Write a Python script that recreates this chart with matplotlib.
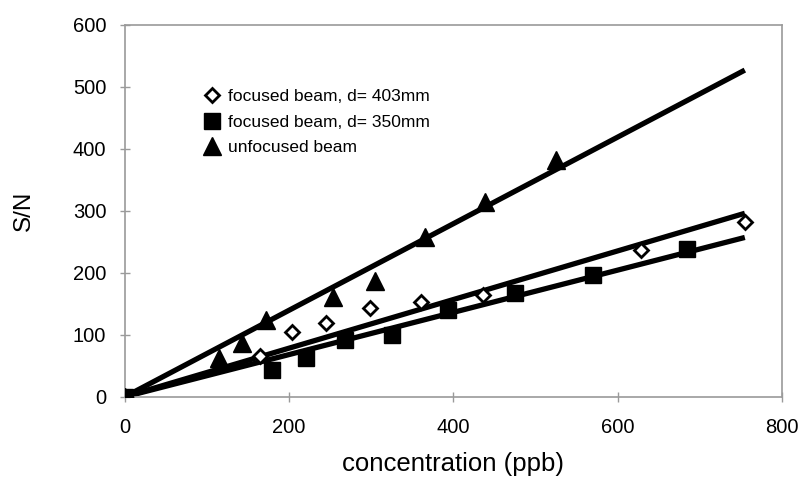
import matplotlib
matplotlib.use("Agg")
import matplotlib.pyplot as plt

plt.rcParams['font.family'] = ['Liberation Sans', 'DejaVu Sans']

dia_x = [0, 164, 203, 245, 298, 361, 436, 628, 755]
dia_y = [0, 65, 105, 119, 143, 153, 164, 236, 282]

sq_x = [0, 179, 221, 268, 325, 394, 475, 570, 684]
sq_y = [0, 43, 62, 92, 100, 140, 167, 196, 238]

tri_x = [0, 114, 142, 172, 254, 304, 365, 439, 525]
tri_y = [0, 62, 86, 124, 161, 186, 258, 315, 382]

# fitted lines (end points)
fit_x = [0, 755]
fit_dia = [0, 296]
fit_sq = [0, 257]
fit_tri = [0, 527]

fig = plt.figure(figsize=(8.01, 4.78), dpi=100)
ax = fig.add_axes([0.156, 0.17, 0.82, 0.778])

ax.plot(fit_x, fit_tri, color='black', lw=3.8, solid_capstyle='butt', zorder=2)
ax.plot(fit_x, fit_dia, color='black', lw=3.8, solid_capstyle='butt', zorder=2)
ax.plot(fit_x, fit_sq, color='black', lw=3.8, solid_capstyle='butt', zorder=2)

ax.plot(dia_x, dia_y, ls='none', marker='D', ms=7.5, mfc='white', mec='black',
        mew=2, label='focused beam, d= 403mm', zorder=3)
ax.plot(sq_x, sq_y, ls='none', marker='s', ms=11.5, color='black',
        label='focused beam, d= 350mm', zorder=3)
ax.plot(tri_x, tri_y, ls='none', marker='^', ms=13, color='black',
        label='unfocused beam', zorder=3)

ax.set_xlim(0, 800)
ax.set_ylim(0, 600)
ax.set_xticks([0, 200, 400, 600, 800])
ax.set_yticks([0, 100, 200, 300, 400, 500, 600])

for s in ax.spines.values():
    s.set_color('#9a9a9a')
    s.set_linewidth(1.2)
ax.tick_params(direction='inout', length=7, width=1, color='#9a9a9a',
               labelsize=14.5, pad=12)
ax.tick_params(axis='y', pad=10)

ax.set_xlabel('concentration (ppb)', fontsize=18.5, va='center')
ax.set_ylabel('S/N', fontsize=17.5, va='center')
ax.xaxis.set_label_coords(0.5, -0.181)
ax.yaxis.set_label_coords(-0.154, 0.5)

ax.legend(loc='upper left', bbox_to_anchor=(0.12, 0.827), frameon=False,
          fontsize=12.5, handlelength=0.9, handletextpad=0.5,
          labelspacing=0.6, borderpad=0, borderaxespad=0)

fig.savefig('out.png', dpi=100)
